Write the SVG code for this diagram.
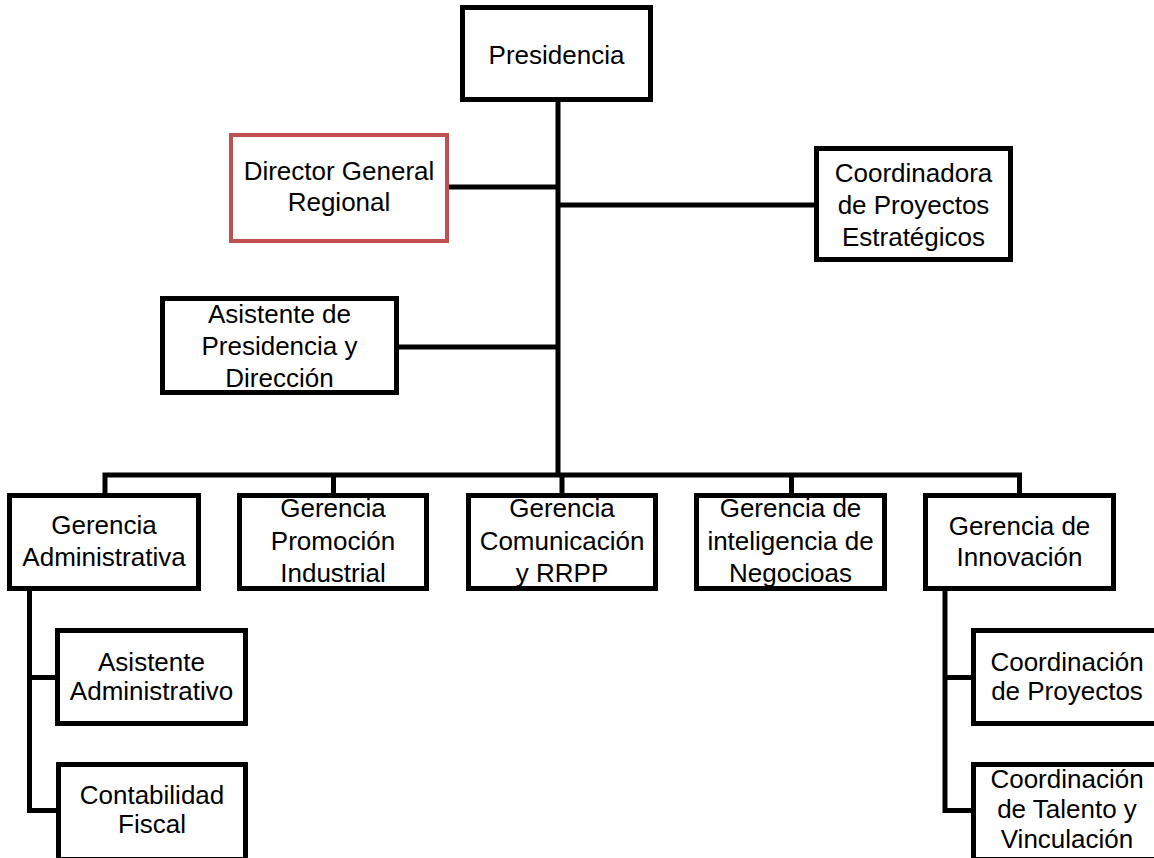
<svg xmlns="http://www.w3.org/2000/svg" width="1154" height="858" viewBox="0 0 1154 858">
<style>
.box{fill:#fff;stroke:#000;stroke-width:5}
.red{fill:#fff;stroke:#C0504D;stroke-width:4}
.ln{fill:none;stroke:#000;stroke-width:5}
text{font-family:"Liberation Sans",Arial,sans-serif;font-size:26px;fill:#000;text-anchor:middle}
</style>
<rect width="1154" height="858" fill="#fff"/>
<g id="connectors">
<path class="ln" d="M558 100V475"/>
<path class="ln" d="M449 187H558"/>
<path class="ln" d="M558 205H814"/>
<path class="ln" d="M399 347H558"/>
<path class="ln" d="M105 493V475H1019.5V493"/>
<path class="ln" d="M333.5 475V493M562 475V493M791.5 475V493"/>
<path class="ln" d="M29.5 591V810.5H56M29.5 677.5H55"/>
<path class="ln" d="M945 591V810.5H971M945 677.5H971"/>
</g>
<g id="presidencia"><rect class="box" x="462.5" y="7.5" width="188" height="92"/><text x="556.5" y="64">Presidencia</text></g>
<g id="director"><rect class="red" x="231" y="135" width="216" height="106"/><text x="339" y="180">Director General</text><text x="339" y="211">Regional</text></g>
<g id="coordinadora"><rect class="box" x="816.5" y="148.5" width="194" height="111"/><text x="913.5" y="182">Coordinadora</text><text x="913.5" y="214">de Proyectos</text><text x="913.5" y="246">Estratégicos</text></g>
<g id="asistente-presidencia"><rect class="box" x="162.5" y="298.5" width="234" height="94"/><text x="279.5" y="323">Asistente de</text><text x="279.5" y="355">Presidencia y</text><text x="279.5" y="387">Dirección</text></g>
<g id="ger-admin"><rect class="box" x="9.5" y="495.5" width="189" height="93"/><text x="104" y="534">Gerencia</text><text x="104" y="566">Administrativa</text></g>
<g id="ger-promo"><rect class="box" x="239.5" y="495.5" width="187" height="93"/><text x="333" y="517">Gerencia</text><text x="333" y="550">Promoción</text><text x="333" y="582">Industrial</text></g>
<g id="ger-com"><rect class="box" x="468.5" y="495.5" width="187" height="93"/><text x="562" y="517">Gerencia</text><text x="562" y="550">Comunicación</text><text x="562" y="582">y RRPP</text></g>
<g id="ger-intel"><rect class="box" x="696.5" y="495.5" width="188" height="93"/><text x="790.5" y="517">Gerencia de</text><text x="790.5" y="550">inteligencia de</text><text x="790.5" y="582">Negocioas</text></g>
<g id="ger-innov"><rect class="box" x="925.5" y="495.5" width="188" height="93"/><text x="1019.5" y="535">Gerencia de</text><text x="1019.5" y="566">Innovación</text></g>
<g id="asist-admin"><rect class="box" x="57.5" y="630.5" width="188" height="93"/><text x="151.5" y="671">Asistente</text><text x="151.5" y="700">Administrativo</text></g>
<g id="contabilidad"><rect class="box" x="58.5" y="764.5" width="187" height="95"/><text x="152" y="804">Contabilidad</text><text x="152" y="833">Fiscal</text></g>
<g id="coord-proyectos"><rect class="box" x="973.5" y="630.5" width="190" height="93"/><text x="1067" y="671">Coordinación</text><text x="1067" y="700">de Proyectos</text></g>
<g id="coord-talento"><rect class="box" x="973.5" y="764.5" width="190" height="95"/><text x="1067" y="788">Coordinación</text><text x="1067" y="818">de Talento y</text><text x="1067" y="848">Vinculación</text></g>
</svg>
